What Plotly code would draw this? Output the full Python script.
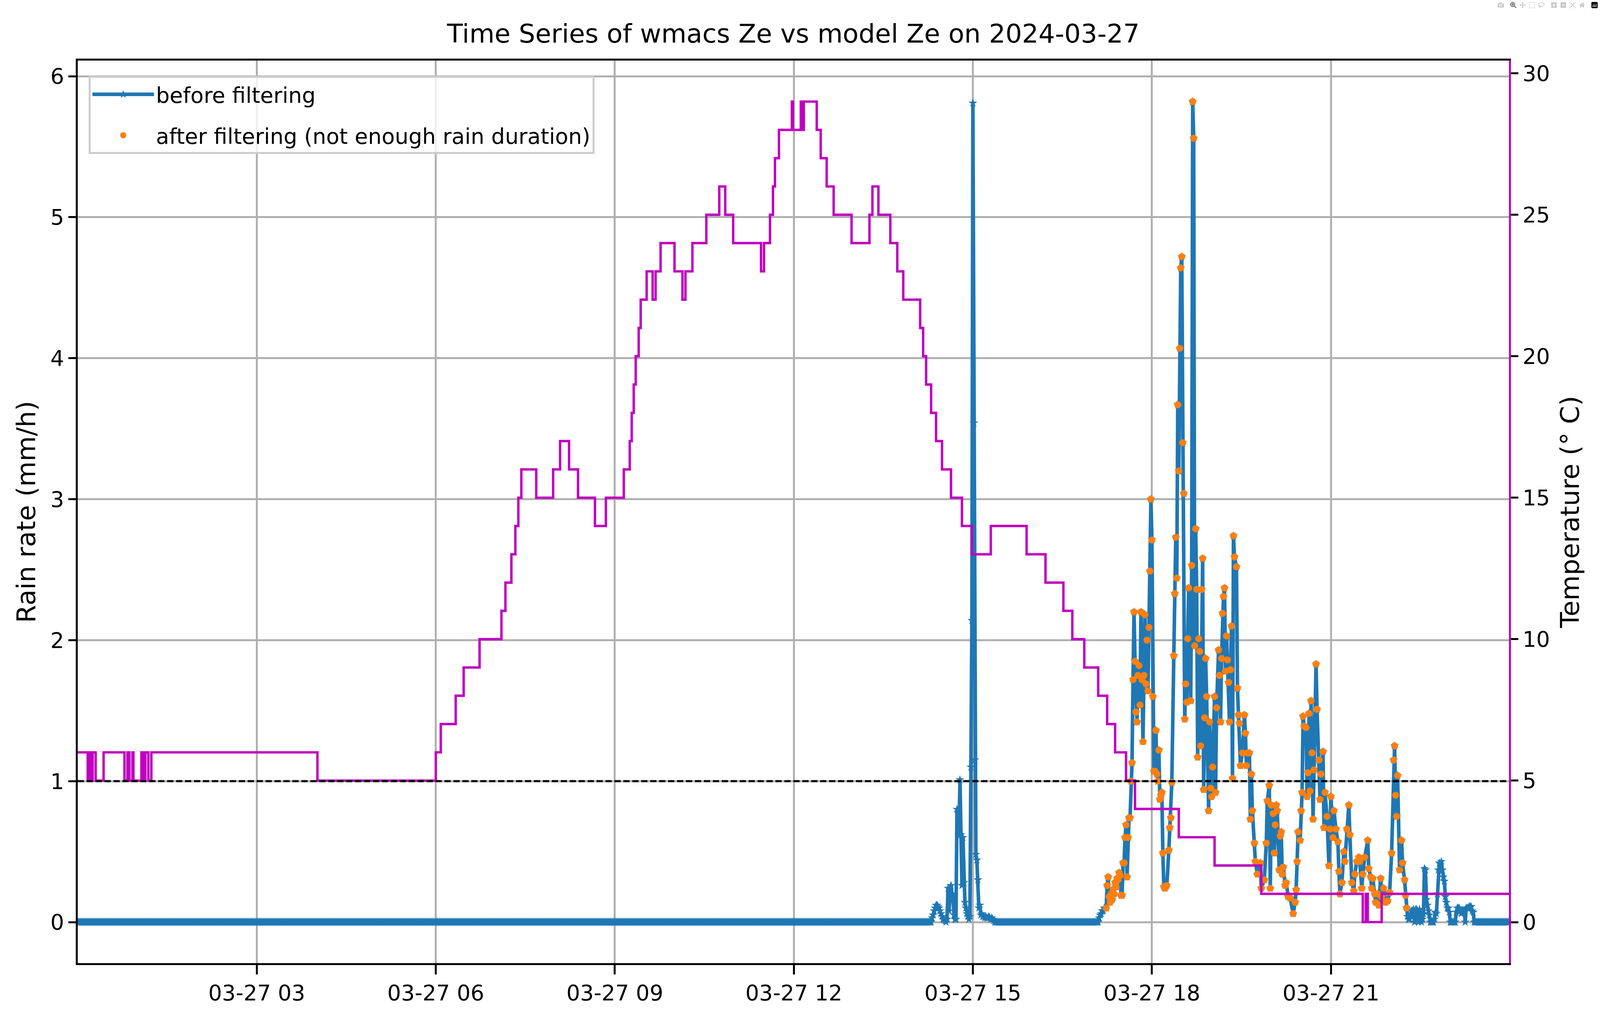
import numpy as np
import pandas as pd
import plotly.graph_objects as go

DAY = "2024-03-27"
TITLE = "Time Series of wmacs Ze vs model Ze on 2024-03-27"

# ---- rain-rate readings (minute of day, mm/h) where the series leaves the zero band
rain_min = [
    859, 860, 861, 862, 863, 864, 865, 866, 867, 868, 869, 870, 871, 872, 873, 874,
    875, 876, 877, 878, 879, 880, 881, 882, 883, 884, 885, 886, 887, 888, 889, 890,
    891, 892, 893, 894, 895, 896, 897, 898, 899, 900, 901, 902, 903, 904, 905, 906,
    907, 908, 909, 910, 911, 912, 913, 914, 915, 916, 917, 918, 919, 920, 921,
    1027, 1028, 1029, 1030, 1031, 1032, 1033, 1034, 1035, 1036, 1037, 1038, 1039, 1040,
    1041, 1042, 1043, 1044, 1045, 1046, 1047, 1048, 1049, 1050, 1051, 1052, 1053, 1054,
    1055, 1056, 1057, 1058, 1059, 1060, 1061, 1062, 1063, 1064, 1065, 1066, 1067, 1068,
    1069, 1070, 1071, 1072, 1073, 1074, 1075, 1076, 1077, 1078, 1079, 1080, 1081, 1082,
    1083, 1084, 1085, 1086, 1087, 1088, 1089, 1090, 1091, 1092, 1093, 1094, 1095,
    1097, 1098, 1099, 1100, 1102, 1103, 1104, 1105, 1106, 1107, 1108, 1109, 1110, 1111,
    1112, 1113, 1114, 1115, 1116, 1117, 1119, 1120, 1121, 1122, 1123, 1124, 1125, 1126,
    1127, 1128, 1129, 1130, 1131, 1132, 1133, 1134, 1135, 1137, 1138, 1139, 1140, 1141,
    1143, 1144, 1145, 1147, 1148, 1149, 1150, 1151, 1152, 1153, 1154, 1155, 1156, 1157,
    1158, 1159, 1160, 1161, 1162, 1163, 1165, 1166, 1167, 1168, 1169,
    1171, 1173, 1174, 1175, 1176, 1178, 1179, 1180, 1181, 1183, 1184, 1186, 1189, 1190,
    1193, 1195, 1196, 1198, 1199, 1200, 1202, 1203, 1204, 1205, 1206, 1208, 1209, 1210,
    1211, 1212, 1214, 1215, 1217, 1219, 1222, 1224, 1225, 1226, 1227, 1229, 1230, 1231,
    1232, 1233, 1235, 1236, 1237, 1238, 1239, 1240, 1241, 1242, 1243, 1245, 1246, 1248,
    1249, 1250, 1252, 1253,
    1254, 1256, 1258, 1259, 1260, 1262, 1263, 1265, 1267, 1268, 1269, 1271, 1273, 1274,
    1276, 1278, 1279, 1281, 1283, 1284, 1286, 1288, 1289, 1291, 1292, 1294, 1297, 1298,
    1300, 1301, 1302, 1304, 1305, 1307, 1308, 1310, 1311, 1313, 1315, 1317, 1319, 1321,
    1323, 1324, 1325, 1326, 1327, 1329, 1331, 1332, 1334, 1335, 1336,
    1337, 1338, 1339, 1340, 1341, 1342, 1343, 1344, 1345, 1346, 1347, 1348, 1349, 1350,
    1351, 1352, 1353, 1354, 1355, 1356, 1357, 1358, 1359, 1360, 1361, 1362, 1363, 1364,
    1365, 1366, 1367, 1368, 1369, 1370, 1371, 1372, 1373, 1374, 1375, 1376, 1377, 1378,
    1379, 1380, 1381, 1382, 1383, 1384, 1385, 1386, 1387, 1388, 1389, 1390, 1391, 1392,
    1393, 1394, 1395, 1396, 1397, 1398, 1399, 1400, 1401, 1402, 1403, 1404,
]
rain_val = [
    0.03, 0.05, 0.08, 0.10, 0.12, 0.12, 0.11, 0.10, 0.08, 0.06, 0.04, 0.02, 0.02, 0.01, 0.00, 0.02,
    0.24, 0.08, 0.20, 0.26, 0.20, 0.19, 0.05, 0.02, 0.02, 0.80, 0.78, 0.62, 1.01, 0.62, 0.26, 0.60,
    0.28, 0.14, 0.10, 0.06, 0.04, 0.02, 0.04, 1.10, 2.14, 5.81, 3.54, 1.15, 0.48, 0.44, 0.30, 0.10,
    0.12, 0.05, 0.06, 0.04, 0.04, 0.03, 0.04, 0.03, 0.03, 0.04, 0.03, 0.02, 0.03, 0.02, 0.01,
    0.03, 0.05, 0.06, 0.08, 0.08, 0.10, 0.10, 0.10, 0.26, 0.32, 0.18, 0.14, 0.20, 0.16,
    0.23, 0.20, 0.28, 0.25, 0.31, 0.30, 0.35, 0.33, 0.19, 0.19, 0.42, 0.42, 0.60, 0.69,
    0.32, 0.60, 0.74, 0.74, 1.00, 1.13, 1.72, 2.20, 1.85, 1.49, 1.42, 1.75, 1.82, 1.54,
    2.20, 1.72, 1.28, 1.75, 2.18, 1.69, 2.00, 1.64, 2.09, 2.49, 3.00, 2.71, 1.60, 1.07,
    1.07, 1.36, 1.05, 1.00, 1.22, 0.87, 0.90, 0.92, 0.49, 0.25, 0.24, 0.25, 0.26,
    0.51, 0.67, 0.74, 0.99, 1.89, 2.33, 2.73, 2.44, 3.67, 3.20, 4.07, 4.64, 4.72, 3.40,
    3.04, 1.44, 1.69, 1.56, 2.01, 2.37, 1.57, 2.53, 5.82, 5.56, 1.96, 2.79, 2.36, 1.17,
    2.01, 1.92, 1.25, 2.36, 2.58, 0.94, 1.45, 1.87, 1.60, 0.79, 1.42, 0.95, 0.89, 1.10,
    1.60, 0.92, 1.52, 1.93, 1.75, 1.42, 1.87, 2.19, 2.31, 2.37, 1.78, 2.03, 1.86, 1.70,
    1.42, 1.79, 2.10, 1.02, 2.74, 2.59, 2.52, 1.66, 1.47, 1.41, 1.11,
    1.20, 1.47, 1.34, 1.11, 1.20, 1.20, 0.73, 1.05, 0.79, 0.56, 0.43, 0.34, 0.42, 0.24,
    0.30, 0.56, 0.86, 0.97, 0.24, 0.83, 0.77, 0.49, 0.69, 0.83, 0.79, 0.37, 0.61, 0.64,
    0.34, 0.39, 0.26, 0.28, 0.18, 0.17, 0.06, 0.14, 0.23, 0.43, 0.64, 0.58, 0.79, 0.92,
    1.46, 1.39, 1.38, 0.89, 1.06, 1.48, 0.93, 1.57, 1.20, 0.73, 1.08, 1.83, 1.51, 1.15,
    0.87, 1.05, 1.21, 0.67,
    0.92, 0.75, 0.40, 0.66, 0.89, 0.60, 0.79, 0.66, 0.57, 0.36, 0.20, 0.28, 0.50, 0.43,
    0.66, 0.83, 0.62, 0.28, 0.22, 0.34, 0.43, 0.46, 0.43, 0.24, 0.34, 0.46, 0.58, 0.38,
    0.32, 0.24, 0.31, 0.20, 0.14, 0.20, 0.12, 0.31, 0.18, 0.24, 0.14, 0.15, 0.21, 0.49,
    1.15, 1.25, 0.90, 0.75, 1.04, 0.37, 0.58, 0.42, 0.30, 0.19, 0.10,
    0.04, 0.02, 0.02, 0.05, 0.08, 0.08, 0.09, 0.00, 0.09, 0.09, 0.08, 0.00, 0.09, 0.06,
    0.00, 0.02, 0.06, 0.38, 0.37, 0.16, 0.12, 0.08, 0.05, 0.00, 0.00, 0.00, 0.00, 0.02,
    0.07, 0.06, 0.20, 0.37, 0.42, 0.41, 0.43, 0.37, 0.32, 0.29, 0.18, 0.14, 0.10, 0.10,
    0.07, 0.00, 0.00, 0.00, 0.00, 0.00, 0.00, 0.07, 0.10, 0.10, 0.10, 0.08, 0.06, 0.08,
    0.08, 0.08, 0.00, 0.10, 0.10, 0.10, 0.11, 0.11, 0.11, 0.08, 0.07, 0.00,
]
# minutes (inclusive ranges) where the rain rate is read as zero
zero_ranges = [(0, 858), (922, 1026), (1405, 1439)]
# rain event that survives the filter (inclusive minute range)
kept_window = (1034, 1336)

# ---- temperature: minute of each change and the value held from then on (deg C)
temp_min = [0, 10, 12, 13, 15, 18, 26, 47, 50, 52, 55, 56, 64, 66, 68, 71, 74, 241,
            360, 365, 380, 388, 404, 426, 430, 436, 440, 443, 446, 461, 478, 485, 494,
            503, 520, 531, 549, 555, 557, 559, 561, 564, 566, 572, 578, 581, 586, 600,
            608, 611, 618, 632, 645, 651, 659, 687, 690, 696, 699, 701, 705, 718, 719,
            727, 728, 730, 743, 747, 753, 760, 778, 796, 799, 805, 817, 824, 830, 847,
            850, 853, 858, 863, 869, 878, 889, 899, 918, 954, 973, 991, 1000, 1012,
            1026, 1035, 1043, 1054, 1063, 1107, 1143, 1190, 1292, 1295, 1297, 1311, 1439]
temp_val = [6, 5, 6, 5, 6, 5, 6, 5, 6, 5, 6, 5, 6, 5, 6, 5, 6, 5,
            6, 7, 8, 9, 10, 11, 12, 13, 14, 15, 16, 15, 16, 17, 16,
            15, 14, 15, 16, 17, 18, 19, 20, 21, 22, 23, 22, 23, 24, 23,
            22, 23, 24, 25, 26, 25, 24, 23, 24, 25, 26, 27, 28, 29, 28,
            29, 28, 29, 28, 27, 26, 25, 24, 25, 26, 25, 24, 23, 22, 21,
            20, 19, 18, 17, 16, 15, 14, 13, 14, 13, 12, 11, 10, 9,
            8, 7, 6, 5, 4, 3, 2, 1, 0, 1, 0, 1, 1]

rain_threshold = 1.0
x_tick_hours = [3, 6, 9, 12, 15, 18, 21]
y_ticks = [0, 1, 2, 3, 4, 5, 6]
y2_ticks = [0, 5, 10, 15, 20, 25, 30]

# ---- assemble series
t0 = pd.Timestamp(DAY)
zero_min = np.concatenate([np.arange(a, b + 1) for a, b in zero_ranges])
all_min = np.concatenate([zero_min, np.asarray(rain_min, float)])
all_val = np.concatenate([np.zeros(len(zero_min)), np.asarray(rain_val, float)])
order = np.argsort(all_min, kind="stable")
all_min, all_val = all_min[order], all_val[order]
t_all = t0 + pd.to_timedelta(all_min, unit="min")
kept = (all_min >= kept_window[0]) & (all_min <= kept_window[1]) & (all_val > 0)
t_temp = t0 + pd.to_timedelta(np.asarray(temp_min, float), unit="min")

BLUE, ORANGE, MAG = "#1f77b4", "#ff7f0e", "#bf00bf"
FONT = "DejaVu Sans"

# the viewport is 4096 px wide and 2631 px tall: scale horizontal geometry only
W, H = 4096, 2631
SX = W / 5197.0
FS = 0.80            # text scale


def sx(v):
    return v * SX


L, R, T, B = sx(252), sx(295), 155, 166
PW, PH = W - L - R, H - T - B

fig = go.Figure()
fig.add_trace(go.Scatter(
    x=t_all, y=all_val, mode="lines+markers", name="before filtering",
    legendgroup="a",
    line=dict(color=BLUE, width=9.2),
    marker=dict(symbol="star", size=17, color=BLUE, line=dict(width=0)),
))
fig.add_trace(go.Scatter(
    x=t_all[kept], y=all_val[kept], mode="markers",
    name="after filtering (not enough rain duration)", legendgroup="b",
    marker=dict(symbol="circle", size=18, color=ORANGE, line=dict(width=0)),
))
fig.add_trace(go.Scatter(
    x=t_temp, y=temp_val, mode="lines", line=dict(color=MAG, width=6.2, shape="hv"),
    yaxis="y2", showlegend=False, name="Temperature",
))

fig.add_shape(type="line", xref="paper", x0=0, x1=1, yref="y", y0=rain_threshold,
              y1=rain_threshold,
              line=dict(color="black", width=5.6, dash=f"{sx(20):.1f}px,{sx(9):.1f}px"),
              layer="above")

tick_font = dict(family=FONT, size=69 * FS, color="black")
title_font = dict(family=FONT, size=83 * FS, color="black")

fig.update_layout(
    width=W, height=H,
    margin=dict(l=L, r=R, t=T, b=B, autoexpand=False),
    paper_bgcolor="white", plot_bgcolor="white",
    title=dict(text=TITLE, font=title_font, x=0.5, xref="paper", xanchor="center",
               y=1 - 86 / H, yref="container", yanchor="middle"),
    xaxis=dict(
        type="date",
        range=[t0, t0 + pd.Timedelta(minutes=1439)],
        tickvals=[t0 + pd.Timedelta(hours=h) for h in x_tick_hours],
        tickformat="%m-%d %H",
        showgrid=True, gridcolor="#b0b0b0", gridwidth=4.6,
        ticks="outside", ticklen=24, tickwidth=4.6, tickcolor="black",
        showline=True, linecolor="black", linewidth=5.2, mirror=True,
        zeroline=False, tickfont=tick_font,
    ),
    yaxis=dict(
        range=[-0.291, 6.111], tickvals=y_ticks,
        showgrid=True, gridcolor="#b0b0b0", gridwidth=5.2,
        ticks="outside", ticklen=sx(24), tickwidth=5.2, tickcolor="black",
        showline=True, linecolor="black", linewidth=4.6, mirror=False,
        zeroline=False, tickfont=tick_font,
        title=dict(text="Rain rate (mm/h)", font=title_font, standoff=18),
    ),
    yaxis2=dict(
        overlaying="y", side="right", anchor="x",
        range=[-1.45, 30.45], tickvals=y2_ticks,
        showgrid=False, zeroline=False,
        ticks="outside", ticklen=sx(24), tickwidth=5.2, tickcolor="black",
        showline=True, linecolor=MAG, linewidth=4.6,
        tickfont=tick_font,
        title=dict(text="Temperature (° C)", font=title_font, standoff=30),
    ),
    legend=dict(
        x=(sx(287) - L) / PW, y=(H - B - 194) / PH,
        xanchor="left", yanchor="top",
        bgcolor="rgba(255,255,255,0.8)", bordercolor="#cccccc", borderwidth=5,
        font=dict(family=FONT, size=69 * FS, color="black"),
        itemwidth=sx(200), traceorder="grouped", tracegroupgap=30,
    ),
    showlegend=True,
)

fig.write_html("out.html",
               post_script="document.body.style.margin='0';"
                           "document.documentElement.style.margin='0';")
